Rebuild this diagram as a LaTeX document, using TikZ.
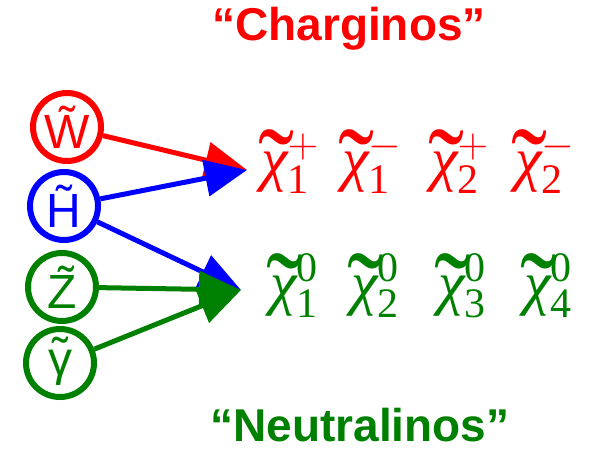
\RequirePackage{fix-cm}
\documentclass[tikz,border=0pt]{standalone}
\usepackage{fontspec}
\usepackage{amsmath}
\usepackage{graphicx}
\newfontfamily\labfont{Liberation Sans}
\newfontfamily\chifont{Liberation Serif}
\usetikzlibrary{arrows.meta}
\definecolor{cred}{RGB}{255,0,0}
\definecolor{cblue}{RGB}{0,0,255}
\definecolor{cgreen}{RGB}{0,128,0}
\newcommand\tgam{{\ooalign{γ\cr\hidewidth\raisebox{0.08em}{˜}\hidewidth\cr}}}
\newcommand\chit{{\ooalign{\chifont\itshape χ\cr\hidewidth\kern0.05em\raisebox{-0.52em}[0.75em][0pt]{\scalebox{1.8}[2.0]{\chifont ˜}}\hidewidth\cr}}}
\newcommand\dg[1]{\text{\chifont #1}}

\begin{document}
\begin{tikzpicture}[
  x=1pt,y=-1pt,
  gaugino/.style={circle,draw,line width=6pt,minimum size=68pt,inner sep=0pt,
    font=\labfont\fontsize{48}{48}\selectfont},
  arr/.style={-{Triangle[length=42pt,width=36pt]},line width=5pt},
  ino/.style={font=\fontsize{60}{60}\selectfont,inner sep=0pt,anchor=base},
  head/.style={font=\labfont\bfseries\fontsize{46}{46}\selectfont,inner sep=0pt,anchor=base},
]
\useasboundingbox (0,0) rectangle (592,451);
\node[head,cred] (tch) at (349,40) {“Charginos”};
\node[head,cgreen] (tne) at (360,441) {“Neutralinos”};
% gauge and higgs eigenstates
\node[gaugino,cred] (w) at (67,127) {\~{W}};
\node[gaugino,cblue] (h) at (64,206) {\~{H}};
\node[gaugino,cgreen] (z) at (62,287) {\~{Z}};
\node[gaugino,cgreen] (g) at (60,363) {\tgam};
% mass eigenstates
\node[ino,cred] (c1p) at (290,179) {$\chit^+_{\dg{1}}$};
\node[ino,cred] (c1m) at (372,179) {$\chit^-_{\dg{1}}$};
\node[ino,cred] (c2p) at (460,179) {$\chit^+_{\dg{2}}$};
\node[ino,cred] (c2m) at (545,179) {$\chit^-_{\dg{2}}$};
\node[ino,cgreen] (n1) at (294,303) {$\chit^{\dg{0}}_{\dg{1}}$};
\node[ino,cgreen] (n2) at (375,303) {$\chit^{\dg{0}}_{\dg{2}}$};
\node[ino,cgreen] (n3) at (462,303) {$\chit^{\dg{0}}_{\dg{3}}$};
\node[ino,cgreen] (n4) at (548,303) {$\chit^{\dg{0}}_{\dg{4}}$};
\coordinate (cha) at (247,170);
\coordinate (neu) at (241,290);
\draw[arr,cred] (w) -- (cha);
\draw[arr,cblue] (h) -- (cha);
\draw[arr,cblue] (h) -- (neu);
\draw[arr,cgreen] (z) -- (neu);
\draw[arr,cgreen] (g) -- (neu);
\end{tikzpicture}
\end{document}
